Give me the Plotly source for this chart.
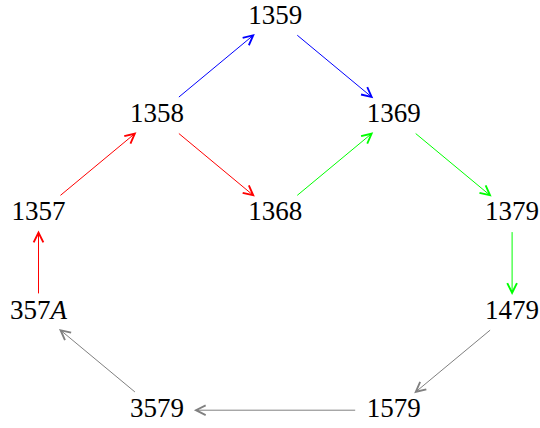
import plotly.graph_objects as go

# Graph layout: node labels and their positions (column, row)
node_labels = ["1359", "1358", "1369", "1357", "1368", "1379",
               "357<i>A</i>", "1479", "3579", "1579"]
node_cols = [2, 1, 3, 0, 2, 4, 0, 4, 1, 3]
node_rows = [0, 1, 1, 2, 2, 2, 3, 3, 4, 4]

# Edges (source index, target index, color)
edge_src = [1, 0, 1, 4, 2, 3, 6, 5, 7, 9, 8]
edge_dst = [0, 2, 4, 2, 5, 1, 3, 7, 9, 8, 6]
edge_col = ["#0000ff", "#0000ff", "#ff0000", "#00ff00", "#00ff00", "#ff0000",
            "#ff0000", "#00ff00", "#808080", "#808080", "#808080"]

# geometry (pixel-like data units)
X0, DX = 38.5, 118.4
Y0, DY = 17, 98.3
HW, HH = 37, 17   # half-size of node boxes for arrow shortening

xs = [X0 + c * DX for c in node_cols]
ys = [Y0 + r * DY for r in node_rows]

fig = go.Figure()

fig.add_trace(go.Scatter(
    x=xs, y=ys, mode="text", text=node_labels,
    textfont=dict(family="Liberation Serif", size=27, color="black"),
    textposition="middle center", hoverinfo="skip", showlegend=False,
    cliponaxis=False))

def shrink(x1, y1, x2, y2):
    dx, dy = x2 - x1, y2 - y1
    ts = []
    if dx != 0:
        ts.append(HW / abs(dx))
    if dy != 0:
        ts.append(HH / abs(dy))
    t = min(ts)
    return (x1 + dx * t, y1 + dy * t, x2 - dx * t, y2 - dy * t)

for s, d, c in zip(edge_src, edge_dst, edge_col):
    sx, sy, ex, ey = shrink(xs[s], ys[s], xs[d], ys[d])
    fig.add_annotation(x=ex, y=ey, ax=sx, ay=sy, xref="x", yref="y",
                       axref="x", ayref="y", text="", showarrow=True,
                       arrowhead=5, arrowsize=1.9, arrowwidth=1,
                       arrowcolor=c, standoff=0)

fig.update_xaxes(range=[0, 540], visible=False, fixedrange=True)
fig.update_yaxes(range=[428, 0], visible=False, fixedrange=True)
fig.update_layout(width=540, height=428, margin=dict(l=0, r=0, t=0, b=0),
                  plot_bgcolor="white", paper_bgcolor="white")

fig.write_html("out.html", config={"displayModeBar": False},
               post_script="document.body.style.margin='0';")
